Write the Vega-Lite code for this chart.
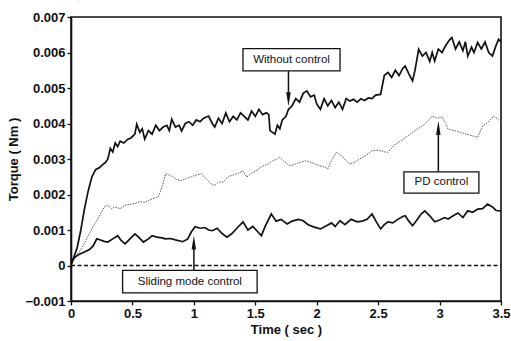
{
  "$schema": "https://vega.github.io/schema/vega-lite/v6.json",
  "width": 430,
  "height": 284,
  "autosize": {"type": "none"},
  "padding": {"left": 71, "top": 17, "right": 10, "bottom": 40},
  "background": "white",
  "config": {
    "font": "Liberation Sans",
    "view": {"stroke": "#111", "strokeWidth": 1.6},
    "axis": {"grid": false, "domainColor": "#111", "domainWidth": 1.6, "tickColor": "#111", "tickWidth": 1.3, "tickSize": 4, "labelFont": "Liberation Sans", "labelFontSize": 13, "labelFontWeight": "bold", "labelColor": "#111", "titleFont": "Liberation Sans", "titleFontSize": 13, "titleFontWeight": "bold", "titleColor": "#111", "labelFlush": false, "labelOverlap": false}
  },
  "datasets": {
    "curves": [
      {"t":0,"torque":0.0,"series":"Without control"},
      {"t":0.02,"torque":0.0002,"series":"Without control"},
      {"t":0.05,"torque":0.0005,"series":"Without control"},
      {"t":0.08,"torque":0.001,"series":"Without control"},
      {"t":0.11,"torque":0.0016,"series":"Without control"},
      {"t":0.14,"torque":0.0021,"series":"Without control"},
      {"t":0.17,"torque":0.0025,"series":"Without control"},
      {"t":0.2,"torque":0.0027,"series":"Without control"},
      {"t":0.23,"torque":0.00275,"series":"Without control"},
      {"t":0.26,"torque":0.00285,"series":"Without control"},
      {"t":0.28,"torque":0.0029,"series":"Without control"},
      {"t":0.3,"torque":0.003,"series":"Without control"},
      {"t":0.32,"torque":0.0033,"series":"Without control"},
      {"t":0.34,"torque":0.0032,"series":"Without control"},
      {"t":0.36,"torque":0.00345,"series":"Without control"},
      {"t":0.38,"torque":0.00335,"series":"Without control"},
      {"t":0.4,"torque":0.0035,"series":"Without control"},
      {"t":0.43,"torque":0.00345,"series":"Without control"},
      {"t":0.46,"torque":0.00355,"series":"Without control"},
      {"t":0.49,"torque":0.0036,"series":"Without control"},
      {"t":0.52,"torque":0.0037,"series":"Without control"},
      {"t":0.535,"torque":0.00398,"series":"Without control"},
      {"t":0.56,"torque":0.00375,"series":"Without control"},
      {"t":0.58,"torque":0.00385,"series":"Without control"},
      {"t":0.6,"torque":0.00356,"series":"Without control"},
      {"t":0.63,"torque":0.0038,"series":"Without control"},
      {"t":0.66,"torque":0.0037,"series":"Without control"},
      {"t":0.69,"torque":0.00395,"series":"Without control"},
      {"t":0.72,"torque":0.0038,"series":"Without control"},
      {"t":0.75,"torque":0.0039,"series":"Without control"},
      {"t":0.78,"torque":0.00395,"series":"Without control"},
      {"t":0.8,"torque":0.0038,"series":"Without control"},
      {"t":0.82,"torque":0.00412,"series":"Without control"},
      {"t":0.85,"torque":0.0039,"series":"Without control"},
      {"t":0.88,"torque":0.00395,"series":"Without control"},
      {"t":0.9,"torque":0.00379,"series":"Without control"},
      {"t":0.93,"torque":0.004,"series":"Without control"},
      {"t":0.96,"torque":0.00405,"series":"Without control"},
      {"t":0.99,"torque":0.00395,"series":"Without control"},
      {"t":1.02,"torque":0.0041,"series":"Without control"},
      {"t":1.05,"torque":0.00405,"series":"Without control"},
      {"t":1.08,"torque":0.00415,"series":"Without control"},
      {"t":1.12,"torque":0.00421,"series":"Without control"},
      {"t":1.15,"torque":0.004,"series":"Without control"},
      {"t":1.17,"torque":0.0039,"series":"Without control"},
      {"t":1.2,"torque":0.00415,"series":"Without control"},
      {"t":1.23,"torque":0.004,"series":"Without control"},
      {"t":1.26,"torque":0.0043,"series":"Without control"},
      {"t":1.29,"torque":0.00405,"series":"Without control"},
      {"t":1.32,"torque":0.0042,"series":"Without control"},
      {"t":1.35,"torque":0.0041,"series":"Without control"},
      {"t":1.38,"torque":0.0043,"series":"Without control"},
      {"t":1.41,"torque":0.0042,"series":"Without control"},
      {"t":1.44,"torque":0.0041,"series":"Without control"},
      {"t":1.47,"torque":0.00435,"series":"Without control"},
      {"t":1.5,"torque":0.0042,"series":"Without control"},
      {"t":1.53,"torque":0.0044,"series":"Without control"},
      {"t":1.56,"torque":0.00425,"series":"Without control"},
      {"t":1.59,"torque":0.0043,"series":"Without control"},
      {"t":1.61,"torque":0.00425,"series":"Without control"},
      {"t":1.62,"torque":0.0038,"series":"Without control"},
      {"t":1.64,"torque":0.00375,"series":"Without control"},
      {"t":1.66,"torque":0.0037,"series":"Without control"},
      {"t":1.68,"torque":0.00395,"series":"Without control"},
      {"t":1.7,"torque":0.00385,"series":"Without control"},
      {"t":1.72,"torque":0.0041,"series":"Without control"},
      {"t":1.75,"torque":0.0042,"series":"Without control"},
      {"t":1.77,"torque":0.0044,"series":"Without control"},
      {"t":1.8,"torque":0.0045,"series":"Without control"},
      {"t":1.83,"torque":0.0047,"series":"Without control"},
      {"t":1.86,"torque":0.0046,"series":"Without control"},
      {"t":1.89,"torque":0.00485,"series":"Without control"},
      {"t":1.92,"torque":0.00492,"series":"Without control"},
      {"t":1.95,"torque":0.00475,"series":"Without control"},
      {"t":1.98,"torque":0.0048,"series":"Without control"},
      {"t":2.0,"torque":0.00455,"series":"Without control"},
      {"t":2.03,"torque":0.0044,"series":"Without control"},
      {"t":2.06,"torque":0.0047,"series":"Without control"},
      {"t":2.09,"torque":0.0045,"series":"Without control"},
      {"t":2.12,"torque":0.00465,"series":"Without control"},
      {"t":2.15,"torque":0.00445,"series":"Without control"},
      {"t":2.18,"torque":0.0046,"series":"Without control"},
      {"t":2.21,"torque":0.0044,"series":"Without control"},
      {"t":2.24,"torque":0.0047,"series":"Without control"},
      {"t":2.27,"torque":0.00463,"series":"Without control"},
      {"t":2.3,"torque":0.00468,"series":"Without control"},
      {"t":2.33,"torque":0.0046,"series":"Without control"},
      {"t":2.36,"torque":0.0047,"series":"Without control"},
      {"t":2.39,"torque":0.00465,"series":"Without control"},
      {"t":2.42,"torque":0.00472,"series":"Without control"},
      {"t":2.45,"torque":0.0047,"series":"Without control"},
      {"t":2.48,"torque":0.0048,"series":"Without control"},
      {"t":2.52,"torque":0.00482,"series":"Without control"},
      {"t":2.55,"torque":0.00535,"series":"Without control"},
      {"t":2.58,"torque":0.00544,"series":"Without control"},
      {"t":2.61,"torque":0.0053,"series":"Without control"},
      {"t":2.64,"torque":0.0055,"series":"Without control"},
      {"t":2.67,"torque":0.00535,"series":"Without control"},
      {"t":2.7,"torque":0.00555,"series":"Without control"},
      {"t":2.72,"torque":0.00562,"series":"Without control"},
      {"t":2.75,"torque":0.0054,"series":"Without control"},
      {"t":2.78,"torque":0.0052,"series":"Without control"},
      {"t":2.8,"torque":0.0055,"series":"Without control"},
      {"t":2.83,"torque":0.00609,"series":"Without control"},
      {"t":2.86,"torque":0.0059,"series":"Without control"},
      {"t":2.89,"torque":0.006,"series":"Without control"},
      {"t":2.92,"torque":0.00575,"series":"Without control"},
      {"t":2.94,"torque":0.006,"series":"Without control"},
      {"t":2.96,"torque":0.00576,"series":"Without control"},
      {"t":2.99,"torque":0.0061,"series":"Without control"},
      {"t":3.02,"torque":0.006,"series":"Without control"},
      {"t":3.05,"torque":0.0062,"series":"Without control"},
      {"t":3.08,"torque":0.00635,"series":"Without control"},
      {"t":3.1,"torque":0.00642,"series":"Without control"},
      {"t":3.13,"torque":0.0061,"series":"Without control"},
      {"t":3.16,"torque":0.0063,"series":"Without control"},
      {"t":3.19,"torque":0.00605,"series":"Without control"},
      {"t":3.21,"torque":0.0063,"series":"Without control"},
      {"t":3.23,"torque":0.0059,"series":"Without control"},
      {"t":3.26,"torque":0.00615,"series":"Without control"},
      {"t":3.28,"torque":0.006,"series":"Without control"},
      {"t":3.31,"torque":0.00628,"series":"Without control"},
      {"t":3.34,"torque":0.0061,"series":"Without control"},
      {"t":3.37,"torque":0.0063,"series":"Without control"},
      {"t":3.4,"torque":0.006,"series":"Without control"},
      {"t":3.43,"torque":0.0059,"series":"Without control"},
      {"t":3.46,"torque":0.0062,"series":"Without control"},
      {"t":3.48,"torque":0.00637,"series":"Without control"},
      {"t":3.5,"torque":0.0063,"series":"Without control"},

      {"t":0,"torque":0.0,"series":"PD control"},
      {"t":0.03,"torque":0.0002,"series":"PD control"},
      {"t":0.06,"torque":0.00035,"series":"PD control"},
      {"t":0.09,"torque":0.0005,"series":"PD control"},
      {"t":0.12,"torque":0.0007,"series":"PD control"},
      {"t":0.15,"torque":0.0009,"series":"PD control"},
      {"t":0.18,"torque":0.0011,"series":"PD control"},
      {"t":0.21,"torque":0.00125,"series":"PD control"},
      {"t":0.24,"torque":0.00145,"series":"PD control"},
      {"t":0.27,"torque":0.00165,"series":"PD control"},
      {"t":0.3,"torque":0.0017,"series":"PD control"},
      {"t":0.33,"torque":0.0016,"series":"PD control"},
      {"t":0.36,"torque":0.00165,"series":"PD control"},
      {"t":0.4,"torque":0.0016,"series":"PD control"},
      {"t":0.44,"torque":0.0017,"series":"PD control"},
      {"t":0.48,"torque":0.00172,"series":"PD control"},
      {"t":0.52,"torque":0.00175,"series":"PD control"},
      {"t":0.56,"torque":0.0018,"series":"PD control"},
      {"t":0.6,"torque":0.00178,"series":"PD control"},
      {"t":0.64,"torque":0.00185,"series":"PD control"},
      {"t":0.68,"torque":0.0019,"series":"PD control"},
      {"t":0.71,"torque":0.00193,"series":"PD control"},
      {"t":0.74,"torque":0.0022,"series":"PD control"},
      {"t":0.77,"torque":0.00258,"series":"PD control"},
      {"t":0.8,"torque":0.00255,"series":"PD control"},
      {"t":0.83,"torque":0.0025,"series":"PD control"},
      {"t":0.86,"torque":0.00242,"series":"PD control"},
      {"t":0.9,"torque":0.00239,"series":"PD control"},
      {"t":0.94,"torque":0.00245,"series":"PD control"},
      {"t":0.98,"torque":0.0025,"series":"PD control"},
      {"t":1.02,"torque":0.00255,"series":"PD control"},
      {"t":1.06,"torque":0.00258,"series":"PD control"},
      {"t":1.1,"torque":0.00245,"series":"PD control"},
      {"t":1.14,"torque":0.0023,"series":"PD control"},
      {"t":1.17,"torque":0.00225,"series":"PD control"},
      {"t":1.2,"torque":0.00235,"series":"PD control"},
      {"t":1.24,"torque":0.00235,"series":"PD control"},
      {"t":1.28,"torque":0.0025,"series":"PD control"},
      {"t":1.32,"torque":0.00255,"series":"PD control"},
      {"t":1.36,"torque":0.0026,"series":"PD control"},
      {"t":1.4,"torque":0.00267,"series":"PD control"},
      {"t":1.43,"torque":0.00249,"series":"PD control"},
      {"t":1.47,"torque":0.0026,"series":"PD control"},
      {"t":1.52,"torque":0.0027,"series":"PD control"},
      {"t":1.56,"torque":0.0028,"series":"PD control"},
      {"t":1.6,"torque":0.00285,"series":"PD control"},
      {"t":1.64,"torque":0.00295,"series":"PD control"},
      {"t":1.68,"torque":0.003,"series":"PD control"},
      {"t":1.7,"torque":0.00305,"series":"PD control"},
      {"t":1.73,"torque":0.00295,"series":"PD control"},
      {"t":1.78,"torque":0.00281,"series":"PD control"},
      {"t":1.82,"torque":0.00285,"series":"PD control"},
      {"t":1.86,"torque":0.0029,"series":"PD control"},
      {"t":1.91,"torque":0.00295,"series":"PD control"},
      {"t":1.95,"torque":0.00291,"series":"PD control"},
      {"t":1.99,"torque":0.00285,"series":"PD control"},
      {"t":2.03,"torque":0.0028,"series":"PD control"},
      {"t":2.06,"torque":0.00278,"series":"PD control"},
      {"t":2.09,"torque":0.00272,"series":"PD control"},
      {"t":2.12,"torque":0.00295,"series":"PD control"},
      {"t":2.16,"torque":0.00319,"series":"PD control"},
      {"t":2.2,"torque":0.0031,"series":"PD control"},
      {"t":2.24,"torque":0.00295,"series":"PD control"},
      {"t":2.27,"torque":0.00286,"series":"PD control"},
      {"t":2.31,"torque":0.00291,"series":"PD control"},
      {"t":2.35,"torque":0.003,"series":"PD control"},
      {"t":2.4,"torque":0.0031,"series":"PD control"},
      {"t":2.45,"torque":0.00323,"series":"PD control"},
      {"t":2.5,"torque":0.00325,"series":"PD control"},
      {"t":2.55,"torque":0.0032,"series":"PD control"},
      {"t":2.58,"torque":0.00319,"series":"PD control"},
      {"t":2.61,"torque":0.0033,"series":"PD control"},
      {"t":2.64,"torque":0.00342,"series":"PD control"},
      {"t":2.68,"torque":0.0035,"series":"PD control"},
      {"t":2.72,"torque":0.0036,"series":"PD control"},
      {"t":2.76,"torque":0.0037,"series":"PD control"},
      {"t":2.8,"torque":0.0038,"series":"PD control"},
      {"t":2.86,"torque":0.00393,"series":"PD control"},
      {"t":2.9,"torque":0.00405,"series":"PD control"},
      {"t":2.94,"torque":0.00421,"series":"PD control"},
      {"t":2.98,"torque":0.00415,"series":"PD control"},
      {"t":3.02,"torque":0.00418,"series":"PD control"},
      {"t":3.05,"torque":0.004,"series":"PD control"},
      {"t":3.07,"torque":0.00384,"series":"PD control"},
      {"t":3.12,"torque":0.0038,"series":"PD control"},
      {"t":3.17,"torque":0.00375,"series":"PD control"},
      {"t":3.22,"torque":0.0037,"series":"PD control"},
      {"t":3.27,"torque":0.00365,"series":"PD control"},
      {"t":3.31,"torque":0.00361,"series":"PD control"},
      {"t":3.35,"torque":0.00393,"series":"PD control"},
      {"t":3.4,"torque":0.00405,"series":"PD control"},
      {"t":3.44,"torque":0.00421,"series":"PD control"},
      {"t":3.48,"torque":0.0041,"series":"PD control"},
      {"t":3.5,"torque":0.00407,"series":"PD control"},

      {"t":0,"torque":0.00005,"series":"Sliding mode control"},
      {"t":0.02,"torque":0.0002,"series":"Sliding mode control"},
      {"t":0.06,"torque":0.0003,"series":"Sliding mode control"},
      {"t":0.11,"torque":0.00038,"series":"Sliding mode control"},
      {"t":0.15,"torque":0.00045,"series":"Sliding mode control"},
      {"t":0.18,"torque":0.00055,"series":"Sliding mode control"},
      {"t":0.21,"torque":0.00075,"series":"Sliding mode control"},
      {"t":0.24,"torque":0.00072,"series":"Sliding mode control"},
      {"t":0.27,"torque":0.00068,"series":"Sliding mode control"},
      {"t":0.3,"torque":0.00066,"series":"Sliding mode control"},
      {"t":0.34,"torque":0.00075,"series":"Sliding mode control"},
      {"t":0.38,"torque":0.00084,"series":"Sliding mode control"},
      {"t":0.41,"torque":0.0007,"series":"Sliding mode control"},
      {"t":0.44,"torque":0.00061,"series":"Sliding mode control"},
      {"t":0.48,"torque":0.00075,"series":"Sliding mode control"},
      {"t":0.52,"torque":0.00089,"series":"Sliding mode control"},
      {"t":0.55,"torque":0.0008,"series":"Sliding mode control"},
      {"t":0.59,"torque":0.00066,"series":"Sliding mode control"},
      {"t":0.63,"torque":0.00075,"series":"Sliding mode control"},
      {"t":0.66,"torque":0.00084,"series":"Sliding mode control"},
      {"t":0.7,"torque":0.0008,"series":"Sliding mode control"},
      {"t":0.74,"torque":0.00078,"series":"Sliding mode control"},
      {"t":0.77,"torque":0.00075,"series":"Sliding mode control"},
      {"t":0.81,"torque":0.00076,"series":"Sliding mode control"},
      {"t":0.85,"torque":0.00072,"series":"Sliding mode control"},
      {"t":0.91,"torque":0.00067,"series":"Sliding mode control"},
      {"t":0.95,"torque":0.00075,"series":"Sliding mode control"},
      {"t":0.98,"torque":0.00095,"series":"Sliding mode control"},
      {"t":1.01,"torque":0.00109,"series":"Sliding mode control"},
      {"t":1.05,"torque":0.00105,"series":"Sliding mode control"},
      {"t":1.09,"torque":0.00107,"series":"Sliding mode control"},
      {"t":1.12,"torque":0.001,"series":"Sliding mode control"},
      {"t":1.15,"torque":0.00098,"series":"Sliding mode control"},
      {"t":1.19,"torque":0.00105,"series":"Sliding mode control"},
      {"t":1.23,"torque":0.0009,"series":"Sliding mode control"},
      {"t":1.27,"torque":0.0008,"series":"Sliding mode control"},
      {"t":1.31,"torque":0.0009,"series":"Sliding mode control"},
      {"t":1.35,"torque":0.00105,"series":"Sliding mode control"},
      {"t":1.4,"torque":0.00123,"series":"Sliding mode control"},
      {"t":1.44,"torque":0.001,"series":"Sliding mode control"},
      {"t":1.48,"torque":0.0011,"series":"Sliding mode control"},
      {"t":1.52,"torque":0.00095,"series":"Sliding mode control"},
      {"t":1.55,"torque":0.00084,"series":"Sliding mode control"},
      {"t":1.58,"torque":0.0011,"series":"Sliding mode control"},
      {"t":1.63,"torque":0.00145,"series":"Sliding mode control"},
      {"t":1.67,"torque":0.00125,"series":"Sliding mode control"},
      {"t":1.71,"torque":0.0013,"series":"Sliding mode control"},
      {"t":1.76,"torque":0.00117,"series":"Sliding mode control"},
      {"t":1.8,"torque":0.00125,"series":"Sliding mode control"},
      {"t":1.85,"torque":0.0013,"series":"Sliding mode control"},
      {"t":1.89,"torque":0.00126,"series":"Sliding mode control"},
      {"t":1.93,"torque":0.00115,"series":"Sliding mode control"},
      {"t":1.98,"torque":0.00108,"series":"Sliding mode control"},
      {"t":2.03,"torque":0.00103,"series":"Sliding mode control"},
      {"t":2.08,"torque":0.00112,"series":"Sliding mode control"},
      {"t":2.12,"torque":0.0012,"series":"Sliding mode control"},
      {"t":2.15,"torque":0.0011,"series":"Sliding mode control"},
      {"t":2.19,"torque":0.00126,"series":"Sliding mode control"},
      {"t":2.23,"torque":0.00115,"series":"Sliding mode control"},
      {"t":2.28,"torque":0.0013,"series":"Sliding mode control"},
      {"t":2.33,"torque":0.00123,"series":"Sliding mode control"},
      {"t":2.37,"torque":0.00125,"series":"Sliding mode control"},
      {"t":2.41,"torque":0.0013,"series":"Sliding mode control"},
      {"t":2.45,"torque":0.00145,"series":"Sliding mode control"},
      {"t":2.49,"torque":0.0012,"series":"Sliding mode control"},
      {"t":2.52,"torque":0.00103,"series":"Sliding mode control"},
      {"t":2.55,"torque":0.00115,"series":"Sliding mode control"},
      {"t":2.58,"torque":0.00123,"series":"Sliding mode control"},
      {"t":2.62,"torque":0.0012,"series":"Sliding mode control"},
      {"t":2.66,"torque":0.0013,"series":"Sliding mode control"},
      {"t":2.7,"torque":0.00138,"series":"Sliding mode control"},
      {"t":2.72,"torque":0.0014,"series":"Sliding mode control"},
      {"t":2.75,"torque":0.00125,"series":"Sliding mode control"},
      {"t":2.78,"torque":0.00112,"series":"Sliding mode control"},
      {"t":2.82,"torque":0.0013,"series":"Sliding mode control"},
      {"t":2.85,"torque":0.00145,"series":"Sliding mode control"},
      {"t":2.88,"torque":0.00154,"series":"Sliding mode control"},
      {"t":2.92,"torque":0.0014,"series":"Sliding mode control"},
      {"t":2.96,"torque":0.00123,"series":"Sliding mode control"},
      {"t":3.0,"torque":0.00128,"series":"Sliding mode control"},
      {"t":3.04,"torque":0.00135,"series":"Sliding mode control"},
      {"t":3.07,"torque":0.00131,"series":"Sliding mode control"},
      {"t":3.11,"torque":0.0014,"series":"Sliding mode control"},
      {"t":3.15,"torque":0.00148,"series":"Sliding mode control"},
      {"t":3.19,"torque":0.00135,"series":"Sliding mode control"},
      {"t":3.23,"torque":0.00154,"series":"Sliding mode control"},
      {"t":3.27,"torque":0.0015,"series":"Sliding mode control"},
      {"t":3.31,"torque":0.00159,"series":"Sliding mode control"},
      {"t":3.35,"torque":0.0016,"series":"Sliding mode control"},
      {"t":3.39,"torque":0.00173,"series":"Sliding mode control"},
      {"t":3.43,"torque":0.00165,"series":"Sliding mode control"},
      {"t":3.46,"torque":0.00155,"series":"Sliding mode control"},
      {"t":3.5,"torque":0.00154,"series":"Sliding mode control"}
    ],
    "labels": [
      {"label":"Without control","x1":1.40,"x2":2.19,"y1":0.00611,"y2":0.00548,"tx":1.795,"ty":0.00579,"ax":1.77,"ay1":0.00548,"ay2":0.00468,"hy":0.00468,"dir":"down"},
      {"label":"PD control","x1":2.71,"x2":3.32,"y1":0.00264,"y2":0.00204,"tx":3.015,"ty":0.00234,"ax":2.99,"ay1":0.00264,"ay2":0.00387,"hy":0.00387,"dir":"up"},
      {"label":"Sliding mode control","x1":0.42,"x2":1.515,"y1":-0.00014,"y2":-0.00077,"tx":0.967,"ty":-0.000455,"ax":1.0,"ay1":-0.00014,"ay2":0.00065,"hy":0.00065,"dir":"up"}
    ],
    "zero": [{"x1":0,"x2":3.5,"y":0}]
  },
  "layer": [
    {
      "data": {"name": "zero"},
      "mark": {"type": "rule", "color": "#111", "strokeWidth": 1.3, "strokeDash": [4, 2.5]},
      "encoding": {
        "x": {"field": "x1", "type": "quantitative", "scale": {"domain": [0, 3.5], "nice": false, "zero": false},
          "axis": {"values": [0, 0.5, 1, 1.5, 2, 2.5, 3, 3.5], "format": "~g", "title": "Time ( sec )", "titlePadding": 3, "labelPadding": 2, "labelOverlap": false}},
        "x2": {"field": "x2"},
        "y": {"field": "y", "type": "quantitative", "scale": {"domain": [-0.001, 0.007], "nice": false, "zero": false},
          "axis": {"values": [-0.001, 0, 0.001, 0.002, 0.003, 0.004, 0.005, 0.006, 0.007], "format": ".3~f", "tickCount": 9, "title": "Torque ( Nm )", "titleX": -58, "titleY": 142, "titleAngle": -90, "titleAlign": "center", "titleBaseline": "middle", "labelPadding": 2, "labelOverlap": false, "labelBound": false}}
      }
    },
    {
      "data": {"name": "curves"},
      "transform": [{"filter": "datum.series == 'PD control'"}],
      "mark": {"type": "line", "color": "#555555", "strokeWidth": 1.0, "strokeDash": [1.5, 1.2]},
      "encoding": {
        "x": {"field": "t", "type": "quantitative"},
        "y": {"field": "torque", "type": "quantitative"}
      }
    },
    {
      "data": {"name": "curves"},
      "transform": [{"filter": "datum.series == 'Without control'"}],
      "mark": {"type": "line", "color": "#111111", "strokeWidth": 1.7},
      "encoding": {
        "x": {"field": "t", "type": "quantitative"},
        "y": {"field": "torque", "type": "quantitative"}
      }
    },
    {
      "data": {"name": "curves"},
      "transform": [{"filter": "datum.series == 'Sliding mode control'"}],
      "mark": {"type": "line", "color": "#111111", "strokeWidth": 1.7},
      "encoding": {
        "x": {"field": "t", "type": "quantitative"},
        "y": {"field": "torque", "type": "quantitative"}
      }
    },
    {
      "data": {"name": "labels"},
      "mark": {"type": "rule", "color": "#111", "strokeWidth": 1.5},
      "encoding": {
        "x": {"field": "ax", "type": "quantitative"},
        "y": {"field": "ay1", "type": "quantitative"},
        "y2": {"field": "ay2"}
      }
    },
    {
      "data": {"name": "labels"},
      "mark": {"type": "point", "filled": true, "color": "#111", "opacity": 1, "size": 196},
      "encoding": {
        "x": {"field": "ax", "type": "quantitative"},
        "y": {"field": "hy", "type": "quantitative"},
        "shape": {"field": "dir", "type": "nominal", "legend": null,
          "scale": {"domain": ["down", "up"], "range": ["M-0.32,-1L0.32,-1L0,1Z", "M-0.32,1L0.32,1L0,-1Z"]}}
      }
    },
    {
      "data": {"name": "labels"},
      "mark": {"type": "rect", "fill": "white", "stroke": "#111", "strokeWidth": 1.3},
      "encoding": {
        "x": {"field": "x1", "type": "quantitative"},
        "x2": {"field": "x2"},
        "y": {"field": "y1", "type": "quantitative"},
        "y2": {"field": "y2"}
      }
    },
    {
      "data": {"name": "labels"},
      "mark": {"type": "text", "font": "Liberation Sans", "fontSize": 11.5, "color": "#111", "align": "center", "baseline": "middle"},
      "encoding": {
        "x": {"field": "tx", "type": "quantitative"},
        "y": {"field": "ty", "type": "quantitative"},
        "text": {"field": "label"}
      }
    }
  ]
}
